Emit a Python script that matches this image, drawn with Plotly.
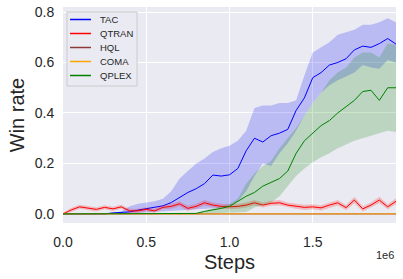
import plotly.graph_objects as go

steps = [i * 50000 for i in range(41)]

tac_mean = [0, 0, 0, 0, 0, 0, 0.004, 0.005, 0.008, 0.015, 0.02, 0.025, 0.032, 0.045, 0.065,
            0.085, 0.10, 0.12, 0.154, 0.15, 0.155, 0.18, 0.25, 0.30, 0.285, 0.31, 0.32, 0.335,
            0.41, 0.46, 0.54, 0.56, 0.59, 0.60, 0.615, 0.65, 0.665, 0.66, 0.675, 0.695, 0.673]
tac_upper = [0, 0, 0, 0, 0, 0.003, 0.008, 0.01, 0.03, 0.04, 0.045, 0.05, 0.06, 0.09, 0.14,
             0.17, 0.20, 0.22, 0.245, 0.26, 0.27, 0.29, 0.33, 0.42, 0.43, 0.43, 0.44, 0.44,
             0.45, 0.55, 0.64, 0.66, 0.68, 0.71, 0.72, 0.73, 0.75, 0.75, 0.76, 0.775, 0.76]
tac_lower = [0, 0, 0, 0, 0, 0, 0, 0, 0.002, 0.004, 0.006, 0.008, 0.01, 0.012, 0.014,
             0.016, 0.018, 0.02, 0.022, 0.024, 0.03, 0.05, 0.09, 0.15, 0.20, 0.19, 0.24, 0.28,
             0.33, 0.39, 0.44, 0.48, 0.51, 0.53, 0.545, 0.56, 0.59, 0.58, 0.575, 0.61, 0.60]

qtran_mean = [0.0, 0.016, 0.028, 0.022, 0.018, 0.026, 0.02, 0.028, 0.012, 0.012, 0.018, 0.012,
              0.026, 0.03, 0.04, 0.022, 0.03, 0.044, 0.035, 0.03, 0.028, 0.03, 0.035, 0.044,
              0.035, 0.042, 0.044, 0.035, 0.03, 0.026, 0.028, 0.024, 0.035, 0.044, 0.025,
              0.055, 0.02, 0.035, 0.055, 0.028, 0.05]
qtran_upper = [0.004, 0.024, 0.036, 0.03, 0.026, 0.034, 0.028, 0.036, 0.02, 0.02, 0.026, 0.02,
               0.034, 0.04, 0.05, 0.032, 0.04, 0.055, 0.045, 0.04, 0.038, 0.04, 0.045, 0.055,
               0.045, 0.052, 0.055, 0.045, 0.04, 0.036, 0.038, 0.034, 0.045, 0.055, 0.035,
               0.068, 0.03, 0.045, 0.068, 0.038, 0.062]
qtran_lower = [0.0, 0.008, 0.02, 0.014, 0.01, 0.018, 0.012, 0.02, 0.005, 0.005, 0.01, 0.005,
               0.018, 0.02, 0.03, 0.012, 0.02, 0.033, 0.025, 0.02, 0.018, 0.02, 0.025, 0.033,
               0.025, 0.032, 0.033, 0.025, 0.02, 0.016, 0.018, 0.014, 0.025, 0.033, 0.015,
               0.042, 0.01, 0.025, 0.042, 0.018, 0.038]

hql_mean = [0, 0, 0, 0, 0, 0, 0.001, 0.002, 0.002, 0.002, 0.002, 0.002, 0.002, 0.002, 0.002,
            0.002, 0.001, 0, 0, 0, 0, 0, 0, 0, 0, 0, 0, 0, 0, 0, 0, 0, 0, 0, 0, 0, 0, 0, 0, 0, 0]

coma_mean = [0, 0, 0, 0, 0, 0, 0, 0, 0, 0, 0, 0, 0, 0, 0, 0, 0, 0, 0, 0, 0,
             0, 0, 0, 0, 0, 0, 0, 0, 0, 0, 0, 0, 0, 0, 0, 0, 0, 0, 0, 0]

qplex_mean = [0, 0, 0, 0, 0, 0, 0, 0, 0, 0, 0, 0, 0, 0, 0, 0, 0.002, 0.01, 0.015, 0.022,
              0.03, 0.05, 0.07, 0.085, 0.11, 0.125, 0.14, 0.17, 0.24, 0.29, 0.32, 0.35, 0.37,
              0.40, 0.425, 0.45, 0.485, 0.49, 0.45, 0.50, 0.50]
qplex_upper = [0, 0, 0, 0, 0, 0, 0, 0, 0, 0, 0, 0, 0, 0, 0, 0, 0.004, 0.012, 0.02, 0.03,
               0.04, 0.06, 0.12, 0.16, 0.19, 0.21, 0.26, 0.30, 0.34, 0.39, 0.44, 0.48, 0.53,
               0.56, 0.58, 0.62, 0.64, 0.64, 0.62, 0.675, 0.67]
qplex_lower = [0, 0, 0, 0, 0, 0, 0, 0, 0, 0, 0, 0, 0, 0, 0, 0, 0, 0.002, 0.003, 0.004,
               0.005, 0.005, 0.008, 0.025, 0.035, 0.045, 0.07, 0.11, 0.15, 0.18, 0.205, 0.225,
               0.24, 0.26, 0.275, 0.29, 0.30, 0.31, 0.32, 0.33, 0.325]

series_names = ["TAC", "QTRAN", "HQL", "COMA", "QPLEX"]
series_colors = ["#0000FF", "#FF0000", "#8B3A3A", "#FFA500", "#008000"]

x_ticks = [0, 500000, 1000000, 1500000]
x_tick_labels = ["0.0", "0.5", "1.0", "1.5"]
y_ticks = [0, 0.2, 0.4, 0.6, 0.8]
y_tick_labels = ["0.0", "0.2", "0.4", "0.6", "0.8"]

fig = go.Figure()


def add_band(upper, lower, fillcolor):
    fig.add_trace(go.Scatter(x=steps, y=upper, mode="lines", line=dict(width=0),
                             showlegend=False, hoverinfo="skip"))
    fig.add_trace(go.Scatter(x=steps, y=lower, mode="lines", line=dict(width=0),
                             fill="tonexty", fillcolor=fillcolor,
                             showlegend=False, hoverinfo="skip"))


def add_line(values, idx):
    fig.add_trace(go.Scatter(x=steps, y=values, mode="lines", name=series_names[idx],
                             showlegend=False,
                             line=dict(color=series_colors[idx], width=1.0)))


add_band(tac_upper, tac_lower, "rgba(0,0,255,0.2)")
add_line(tac_mean, 0)
add_band(qtran_upper, qtran_lower, "rgba(255,0,0,0.2)")
add_line(qtran_mean, 1)
add_line(hql_mean, 2)
add_line(coma_mean, 3)
add_band(qplex_upper, qplex_lower, "rgba(0,128,0,0.2)")
add_line(qplex_mean, 4)

# Plot area in pixels: x 63..396, y 7..223
L, R, T, B = 63, 396, 7, 223


def px(q):
    return (q - L) / (R - L)


def py(p):
    return (B - p) / (B - T)


shapes = [dict(type="rect", xref="paper", yref="paper",
               x0=px(67), x1=px(137), y0=py(86), y1=py(12),
               fillcolor="#EAEAF2", line=dict(color="#CCCCCC", width=1), layer="above")]
annotations = []
for i, (name, color) in enumerate(zip(series_names, series_colors)):
    yy = 19.5 + 14 * i
    shapes.append(dict(type="line", xref="paper", yref="paper",
                       x0=px(70), x1=px(91), y0=py(yy), y1=py(yy),
                       line=dict(color=color, width=1.5), layer="above"))
    annotations.append(dict(text=name, xref="paper", yref="paper", x=px(98), y=py(yy),
                            xanchor="left", yanchor="middle", showarrow=False,
                            font=dict(size=9.5, color="#262626")))

annotations.append(dict(text="1e6", xref="paper", yref="paper", x=px(396), y=py(255),
                        xanchor="right", yanchor="middle", showarrow=False,
                        font=dict(size=11, color="#262626")))

font_family = "Liberation Sans, Arial, sans-serif"
fig.update_layout(
    width=403, height=279,
    margin=dict(l=L, r=403 - R, t=T, b=279 - B),
    paper_bgcolor="white", plot_bgcolor="#EAEAF2",
    font=dict(family=font_family, color="#262626"),
    showlegend=False,
    xaxis=dict(range=[0, 2000000], tickvals=x_ticks, ticktext=x_tick_labels,
               showgrid=True, gridcolor="white", gridwidth=1, zeroline=False,
               showline=False, tickfont=dict(size=14), automargin=False,
               ticks="outside", ticklen=6, tickcolor="rgba(0,0,0,0)",
               title=dict(text="Steps", font=dict(size=20), standoff=6)),
    yaxis=dict(range=[-0.036, 0.82], tickvals=y_ticks, ticktext=y_tick_labels,
               showgrid=True, gridcolor="white", gridwidth=1, zeroline=False,
               showline=False, tickfont=dict(size=14), automargin=False,
               ticks="outside", ticklen=5, tickcolor="rgba(0,0,0,0)",
               title=dict(text="Win rate", font=dict(size=20), standoff=4)),
    shapes=shapes,
    annotations=annotations,
)

fig.write_html("out.html", config={"displayModeBar": False},
               post_script="document.body.style.margin='0';document.body.style.overflow='hidden';")
